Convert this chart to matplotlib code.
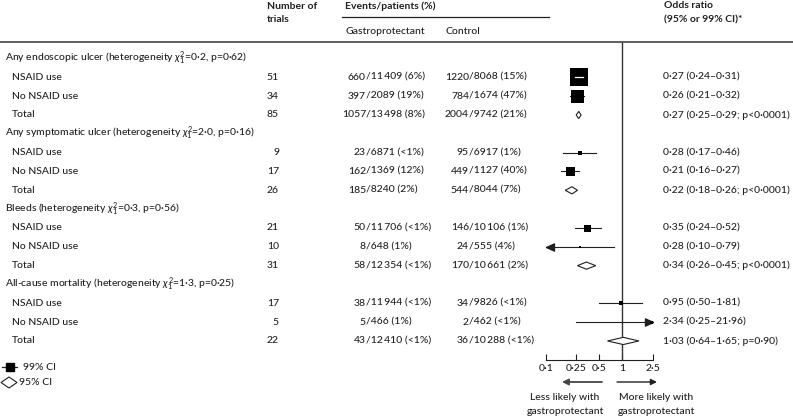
import numpy as np
import matplotlib
matplotlib.use("Agg")
import matplotlib.pyplot as plt
from matplotlib.patches import Polygon
from matplotlib.path import Path
from matplotlib.ticker import NullLocator

plt.rcParams['font.family'] = ['Lato', 'DejaVu Sans']
plt.rcParams['font.weight'] = 'medium'
plt.rcParams['mathtext.fontset'] = 'custom'
plt.rcParams['mathtext.rm'] = 'Lato:medium'
plt.rcParams['mathtext.it'] = 'Lato:italic'
plt.rcParams['mathtext.bf'] = 'Lato:bold'

# data
categories = ["Any endoscopic ulcer", "Any symptomatic ulcer", "Bleeds", "All-cause mortality"]
het_chi = ["0·2", "2·0", "0·3", "1·3"]
het_p = ["0·62", "0·16", "0·56", "0·25"]
subgroups = ["NSAID use", "No NSAID use", "Total"]
n_trials = [[51, 34, 85], [9, 17, 26], [21, 10, 31], [17, 5, 22]]
gastro_events = [[660, 397, 1057], [23, 162, 185], [50, 8, 58], [38, 5, 43]]
gastro_total = [[11409, 2089, 13498], [6871, 1369, 8240], [11706, 648, 12354], [11944, 466, 12410]]
gastro_pct = [["6%", "19%", "8%"], ["<1%", "12%", "2%"], ["<1%", "1%", "<1%"], ["<1%", "1%", "<1%"]]
control_events = [[1220, 784, 2004], [95, 449, 544], [146, 24, 170], [34, 2, 36]]
control_total = [[8068, 1674, 9742], [6917, 1127, 8044], [10106, 555, 10661], [9826, 462, 10288]]
control_pct = [["15%", "47%", "21%"], ["1%", "40%", "7%"], ["1%", "4%", "2%"], ["<1%", "<1%", "<1%"]]
odds = [[0.27, 0.26, 0.27], [0.28, 0.21, 0.22], [0.35, 0.28, 0.34], [0.95, 2.34, 1.03]]
ci_lo = [[0.24, 0.21, 0.25], [0.17, 0.16, 0.18], [0.24, 0.10, 0.26], [0.50, 0.25, 0.64]]
ci_hi = [[0.31, 0.32, 0.29], [0.46, 0.27, 0.26], [0.52, 0.79, 0.45], [1.81, 21.96, 1.65]]
p_total = ["p<0·0001", "p<0·0001", "p<0·0001", "p=0·90"]
xticks = [0.1, 0.25, 0.5, 1, 2.5]
xtick_labels = ["0·1", "0·25", "0·5", "1", "2·5"]

# box sizes (pixels) for the subgroup squares
box_px = [[18, 13], [5, 9], [7, 2.5], [5, 3]]

W, H = 793, 418
ink = '#231f20'
fs = 7.5
row0, dy = 58.5, 18.83
rule_y, axis_y = 42, 360
xmin, xmax = 0.1, 2.5


def num(v):
    s = str(v)
    if v >= 10000:
        s = s[:-3] + '\u2009' + s[-3:]
    return s


def dec(v):
    return f"{v:.2f}".replace('.', '·')


fig = plt.figure(figsize=(W / 100, H / 100), dpi=100)
ax = fig.add_axes([0, 0, 1, 1])
ax.set_xlim(0, W)
ax.set_ylim(H, 0)
ax.axis('off')

# forest panel, log scale
fx0 = 622.3 + 76.6 * -1.2
fx1 = 622.3 + 76.6 * 0.6
fa = fig.add_axes([fx0 / W, 0, (fx1 - fx0) / W, 1])
fa.set_xscale('log')
fa.set_xlim(10 ** -1.2, 10 ** 0.6)
fa.set_ylim(H, 0)
fa.patch.set_alpha(0)
for s in ['left', 'right', 'top']:
    fa.spines[s].set_visible(False)
fa.spines['bottom'].set_position(('data', axis_y))
fa.spines['bottom'].set_bounds(xmin, xmax)
fa.spines['bottom'].set_linewidth(0.8)
fa.spines['bottom'].set_color(ink)
fa.set_yticks([])
fa.set_xticks(xticks)
fa.set_xticklabels(xtick_labels)
fa.xaxis.set_minor_locator(NullLocator())
fa.tick_params(axis='x', direction='in', length=4, width=0.8, pad=3,
               labelsize=fs, colors=ink)

fa.vlines(1, rule_y, axis_y, color='#333333', lw=1.0)

# header
bold = dict(fontsize=fs, fontweight='bold', color=ink, va='center')
ax.text(267, 6.5, "Number of", **bold)
ax.text(267, 20, "trials", **bold)
ax.text(345, 6.5, "Events/patients (%)", **bold)
ax.text(664, 6, "Odds ratio", **bold)
ax.text(664, 20, "(95% or 99% CI)*", **bold)
ax.text(345, 31, "Gastroprotectant", fontsize=fs, color=ink, va='center')
ax.text(446, 31, "Control", fontsize=fs, color=ink, va='center')
ax.plot([342, 549], [17, 17], color=ink, lw=0.9)
ax.plot([0, W], [rule_y, rule_y], color='#333333', lw=1.1)

left_arrow = Path([(0, 0), (1, 0.45), (1, -0.45), (0, 0)])
right_arrow = Path([(0, 0), (-1, 0.45), (-1, -0.45), (0, 0)])

txt = dict(fontsize=fs, color=ink, va='center')
for k, cat in enumerate(categories):
    yh = row0 + dy * 4 * k
    ax.text(5, yh, f"{cat} (heterogeneity $\\chi^2_1$={het_chi[k]}, p={het_p[k]})", **txt)
    for j, sg in enumerate(subgroups):
        y = yh + dy * (j + 1)
        ax.text(12, y, sg, **txt)
        ax.text(279, y, str(n_trials[k][j]), ha='right', **txt)
        ax.text(366, y, num(gastro_events[k][j]), ha='right', **txt)
        ax.text(366, y, f"/{num(gastro_total[k][j])} ({gastro_pct[k][j]})", ha='left', **txt)
        ax.text(469, y, num(control_events[k][j]), ha='right', **txt)
        ax.text(469, y, f"/{num(control_total[k][j])} ({control_pct[k][j]})", ha='left', **txt)
        o, lo, hi = odds[k][j], ci_lo[k][j], ci_hi[k][j]
        if j == 2:
            ci = f"{dec(o)} ({dec(lo)}–{dec(hi)}; {p_total[k]})"
        else:
            ci = f"{dec(o)} ({dec(lo)}–{dec(hi)})"
        ax.text(663, y, ci, **txt)

        if j == 2:
            h = 3.6
            fa.add_patch(Polygon([(lo, y), (o, y - h), (hi, y), (o, y + h)],
                                 closed=True, facecolor='white', edgecolor=ink,
                                 lw=0.8, zorder=3))
            continue
        a, b = max(lo, xmin), min(hi, xmax)
        fa.plot([a, b], [y, y], color=ink, lw=0.8, zorder=2)
        if lo <= xmin:
            fa.plot([xmin], [y], marker=left_arrow, ms=11.5, color=ink,
                    mec=ink, zorder=3)
        if hi > xmax:
            fa.plot([xmax], [y], marker=right_arrow, ms=11.5, color=ink,
                    mec=ink, zorder=3)
        bs = box_px[k][j] * 0.72
        fa.plot([o], [y], marker='s', ms=bs, color='black', mec='black',
                mew=0, zorder=4)
        # CI fully hidden by the box: draw it in white
        if bs > 6:
            disp = fa.transData.transform([(lo, y), (hi, y), (o, y)])
            if disp[2, 0] - disp[0, 0] < box_px[k][j] / 2 and disp[1, 0] - disp[2, 0] < box_px[k][j] / 2:
                fa.plot([lo, hi], [y, y], color='white', lw=0.9, zorder=5)

# legend
ax.plot([2, 17], [367, 367], color=ink, lw=0.9)
ax.plot([10], [367], marker='s', ms=6, color='black')
ax.text(23, 367, "99% CI", **txt)
ax.add_patch(Polygon([(1, 382.5), (9, 377), (17, 382.5), (9, 388)], closed=True,
                     facecolor='white', edgecolor=ink, lw=0.8))
ax.text(19, 382.5, "95% CI", **txt)

# direction arrows
ax.annotate("", xy=(562, 382), xytext=(602, 382),
            arrowprops=dict(arrowstyle='-|>', color='#444', lw=1.3,
                            mutation_scale=9, shrinkA=0, shrinkB=0))
ax.annotate("", xy=(657, 382), xytext=(617, 382),
            arrowprops=dict(arrowstyle='-|>', color=ink, lw=1.0,
                            mutation_scale=9, shrinkA=0, shrinkB=0))
ax.text(565, 397, "Less likely with", ha='center', **txt)
ax.text(565, 411.5, "gastroprotectant", ha='center', **txt)
ax.text(656, 397, "More likely with", ha='center', **txt)
ax.text(656, 411.5, "gastroprotectant", ha='center', **txt)

fig.savefig("out.png", dpi=100)
